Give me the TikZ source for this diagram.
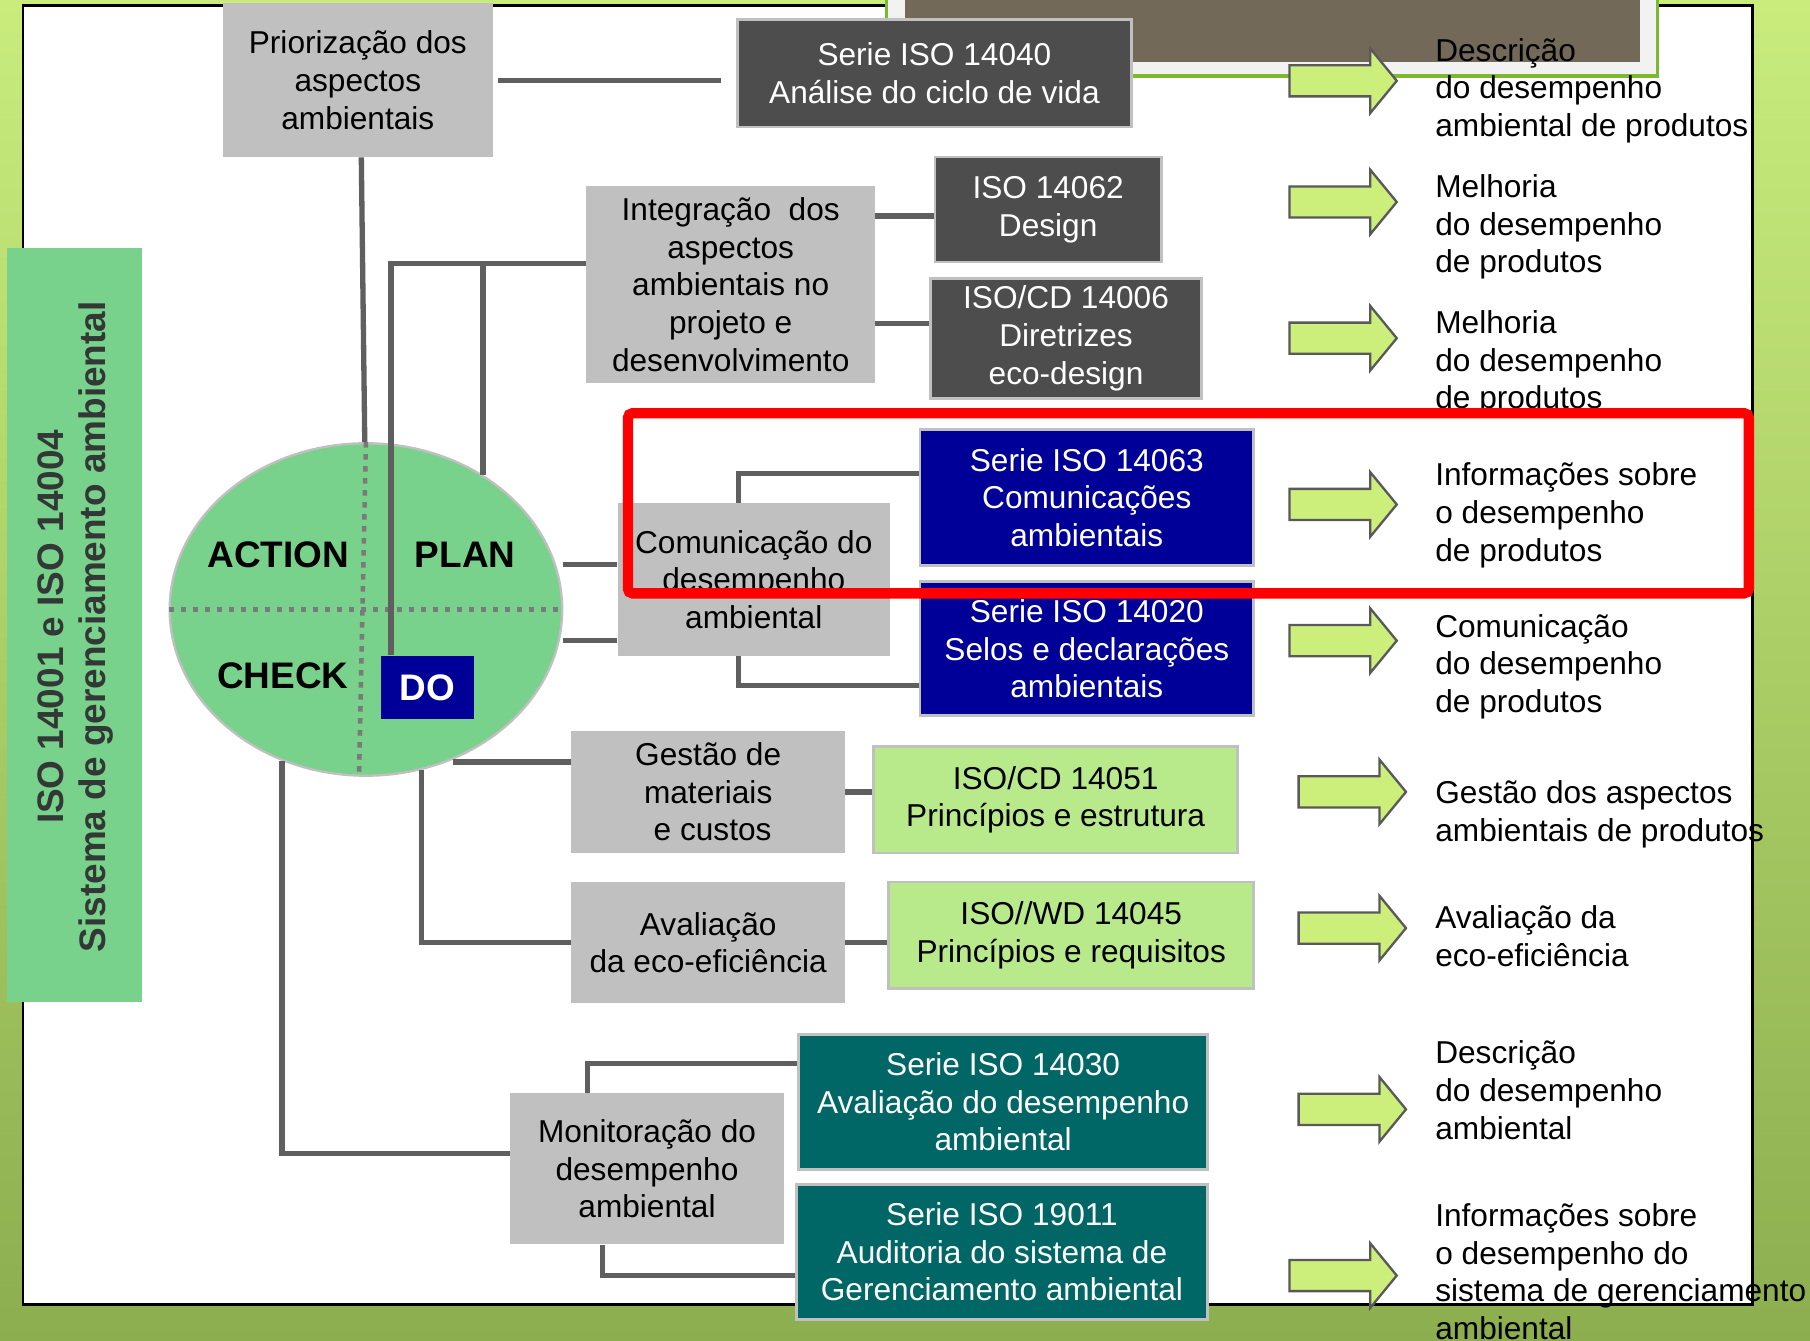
\documentclass[tikz,border=0pt]{standalone}
\usepackage{fontspec}
\setmainfont{Liberation Sans}
\usetikzlibrary{shapes.geometric}

\definecolor{boxgray}{HTML}{C0C0C0}
\definecolor{boxdark}{HTML}{4D4D4D}
\definecolor{boxblue}{HTML}{000099}
\definecolor{boxlight}{HTML}{B8E98A}
\definecolor{boxteal}{HTML}{006666}
\definecolor{linegray}{HTML}{5F5F5F}
\definecolor{dotgray}{HTML}{7A7A7A}
\definecolor{pdcagreen}{HTML}{79D28C}
\definecolor{arrowgreen}{HTML}{CCEE7A}
\definecolor{bartext}{HTML}{333836}
\definecolor{photo}{HTML}{726959}
\definecolor{framegreen}{HTML}{7DB92E}
\definecolor{bgtop}{HTML}{C9EC7D}
\definecolor{bgbottom}{HTML}{8DAE4F}

\tikzset{
  every node/.style={font=\fontsize{13.7}{16.3}\selectfont},
  box/.style={rectangle, inner sep=0pt, align=center},
  greybox/.style={box, fill=boxgray},
  darkbox/.style={box, fill=boxdark, draw=boxgray, line width=1.2pt, text=white},
  bluebox/.style={box, fill=boxblue, draw=boxgray, line width=1.2pt, text=white},
  lightbox/.style={box, fill=boxlight, draw=boxgray, line width=1.2pt},
  tealbox/.style={box, fill=boxteal, draw=boxgray, line width=1.2pt, text=white},
  result/.style={anchor=west, align=left, inner sep=0pt},
  pdcalabel/.style={font=\bfseries\fontsize{16}{18}\selectfont},
  dobox/.style={box, fill=boxblue, text=white, font=\bfseries\fontsize{16}{18}\selectfont},
  conn/.style={draw=linegray, line width=2.3pt},
  dotline/.style={draw=dotgray, line width=2pt, dash pattern=on 2.4pt off 2.8pt},
  garrow/.pic={
    \draw[fill=arrowgreen, draw=black!65, line width=1pt]
      (0,-13.5) -- (70,-13.5) -- (70,-28) -- (93,0) -- (70,28) -- (70,13.5) -- (0,13.5) -- cycle;
  }
}

\begin{document}
\begin{tikzpicture}[x=0.5pt, y=-0.5pt]
  \useasboundingbox (0,0) rectangle (1568,1161);
  % slide background and panel
  \shade[top color=bgtop, bottom color=bgbottom] (0,0) rectangle (1568,1161);
  \draw[line width=1.2pt, fill=white] (20,5) rectangle (1518,1130);
  \draw[draw=framegreen, line width=1.5pt, fill=black!5] (768,-10) rectangle (1436,66);
  \fill[photo] (784,-10) rectangle (1421,54);

  % side bar
  \node[fill=pdcagreen, minimum width=58.5pt, minimum height=326.5pt, inner sep=0pt] (bar) at (64.5,541.5) {};
  \node[rotate=90, align=center, text=bartext, font=\bfseries\fontsize{16}{18.5}\selectfont] (bartitle) at (65.5,543)
    {ISO 14001 e ISO 14004\\Sistema de gerenciamento ambiental};

  % PDCA
  \node[ellipse, fill=pdcagreen, draw=boxgray, line width=1pt, minimum width=170pt, minimum height=144pt, inner sep=0pt] (pdca) at (317,528) {};
  \draw[dotline] (pdca.west) -- (pdca.east);
  \draw[dotline] (pdca.north) -- ([xshift=-3pt]pdca.south);
  \node[pdcalabel] (action) at (241,481) {ACTION};
  \node[pdcalabel] (plan) at (403,481) {PLAN};
  \node[pdcalabel] (check) at (245,585) {CHECK};
  \node[dobox, minimum width=40.5pt, minimum height=27.5pt] (do) at (370.5,595.5) {DO};

  % boxes
  \node[greybox, minimum width=117pt, minimum height=66.5pt] (prio) at (310,69.5) {Priorização dos\\aspectos\\ambientais};
  \node[darkbox, minimum width=170.5pt, minimum height=46.5pt] (s14040) at (809.5,63.5) {Serie ISO 14040\\Análise do ciclo de vida};
  \node[greybox, minimum width=125pt, minimum height=85.5pt] (integ) at (633,246.5) {Integração~ dos\\aspectos\\ambientais no\\projeto e\\desenvolvimento};
  \node[darkbox, minimum width=98pt, minimum height=45.5pt] (i14062) at (908,181.5) {ISO 14062\\Design};
  \node[darkbox, minimum width=117.5pt, minimum height=52pt] (i14006) at (923.5,293) {ISO/CD 14006\\Diretrizes\\eco-design};
  \node[greybox, minimum width=118pt, minimum height=66pt] (comun) at (653,502) {Comunicação do\\desempenho\\ambiental};
  \node[bluebox, minimum width=144.5pt, minimum height=59pt] (s14063) at (941.5,431) {Serie ISO 14063\\Comunicações\\ambientais};
  \node[bluebox, minimum width=144.5pt, minimum height=58pt] (s14020) at (941.5,562) {Serie ISO 14020\\Selos e declarações\\ambientais};
  \node[greybox, minimum width=118.5pt, minimum height=53pt] (gestao) at (613.5,686) {Gestão de\\materiais\\~e custos};
  \node[lightbox, minimum width=157.5pt, minimum height=46pt] (i14051) at (914.5,693) {ISO/CD 14051\\Princípios e estrutura};
  \node[greybox, minimum width=118.5pt, minimum height=52.5pt] (aval) at (613.5,816.5) {Avaliação\\da eco-eficiência};
  \node[lightbox, minimum width=158pt, minimum height=46pt] (i14045) at (928,810) {ISO//WD 14045\\Princípios e requisitos};
  \node[greybox, minimum width=118.5pt, minimum height=65.5pt] (monit) at (560.5,1012.5) {Monitoração do\\desempenho\\ambiental};
  \node[tealbox, minimum width=177pt, minimum height=58.5pt] (s14030) at (869,954.5) {Serie ISO 14030\\Avaliação do desempenho\\ambiental};
  \node[tealbox, minimum width=178pt, minimum height=58.5pt] (s19011) at (868,1084.5) {Serie ISO 19011\\Auditoria do sistema de\\Gerenciamento ambiental};

  % connectors
  \draw[conn] ([xshift=1.5pt]prio.south) -- ([xshift=-0.5pt]pdca.north);
  \coordinate (p1) at (prio.east -| s14040.west);
  \draw[conn] ([xshift=2pt]prio.east) -- ([xshift=-6.5pt]p1);
  \coordinate (i1) at ([yshift=9.25pt]integ.west);
  \draw[conn] (i1) -| ([xshift=4.5pt]do.north west);
  \coordinate (i2) at (pdca.49 |- i1);
  \draw[conn] (i2) -- (pdca.49);
  \coordinate (i3) at ([yshift=-2.75pt]i14062.west);
  \draw[conn] (i3 -| integ.east) -- (i3);
  \coordinate (i4) at ([yshift=6.5pt]i14006.west);
  \draw[conn] (i4 -| integ.east) -- (i4);
  \coordinate (c1) at ([yshift=6.5pt]comun.west);
  \coordinate (c2) at ([yshift=-26.5pt]comun.west);
  \draw[conn] (c1 -| pdca.east) -- (c1);
  \draw[conn] (c2 -| pdca.east) -- (c2);
  \draw[conn] ([xshift=-6.5pt]comun.north) |- ([yshift=10.5pt]s14063.west);
  \draw[conn] ([xshift=-6.5pt]comun.south) |- ([yshift=-16pt]s14020.west);
  \coordinate (g1) at ([yshift=13pt]gestao.west);
  \draw[conn] (g1 -| pdca.-60) -- (g1);
  \draw[conn] (pdca.-71) |- (aval.west);
  \draw[conn] (gestao.east) -- (gestao.east -| i14051.west);
  \draw[conn] (aval.east) -- (aval.east -| i14045.west);
  \draw[conn] (pdca.-119) |- ([yshift=6.75pt]monit.west);
  \draw[conn] ([xshift=-25.75pt]monit.north) |- ([yshift=16.75pt]s14030.west);
  \draw[conn] ([xshift=-19.25pt]monit.south) |- ([yshift=-10.25pt]s19011.west);

  % results
  \foreach \ax/\ay in {1117/70, 1117/175, 1117/293, 1117/437, 1117/555, 1125/686, 1125/804, 1125/961, 1117/1105}
    \pic at (\ax,\ay) {garrow};
  \node[result] (r1) at (1243,78.5) {Descrição\\do desempenho\\ambiental de produtos};
  \node[result] (r2) at (1243,196.5) {Melhoria\\do desempenho\\de produtos};
  \node[result] (r3) at (1243,314.5) {Melhoria\\do desempenho\\de produtos};
  \node[result] (r4) at (1243,446.5) {Informações sobre\\o desempenho\\de produtos};
  \node[result] (r5) at (1243,577.5) {Comunicação\\do desempenho\\de produtos};
  \node[result] (r6) at (1243,705.5) {Gestão dos aspectos\\ambientais de produtos};
  \node[result] (r7) at (1243,811) {Avaliação da\\eco-eficiência};
  \node[result] (r8) at (1243,944.5) {Descrição\\do desempenho\\ambiental};
  \node[result] (r9) at (1243,1101.5) {Informações sobre\\o desempenho do\\sistema de gerenciamento\\ambiental};

  % highlight
  \draw[red, line width=4.5pt, rounded corners=2pt] (544,358) rectangle (1515,514);
\end{tikzpicture}
\end{document}
